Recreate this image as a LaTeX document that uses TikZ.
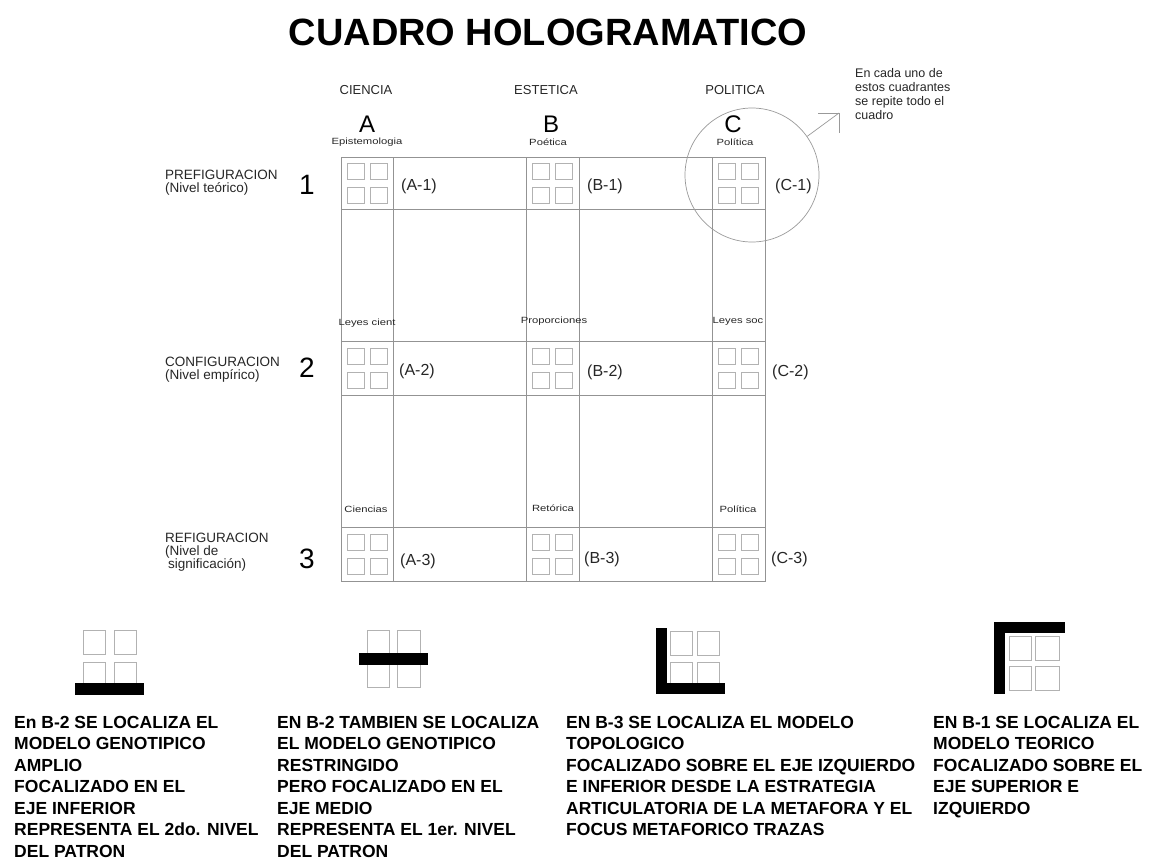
\documentclass[tikz,border=0pt]{standalone}
\usepackage{fontspec}
\setmainfont{Liberation Sans}
\newfontfamily\chica[FakeStretch=1.25]{Liberation Sans}
\tikzset{
  rejilla/.style={draw=gray!85, line width=0.8pt},
  cuadrito/.style={draw=gray!60, line width=0.7pt},
  barra/.style={fill=black},
  titulo/.style={font=\fontsize{38}{40}\selectfont\bfseries, inner sep=0pt},
  cabecera/.style={font=\fontsize{13}{15}\selectfont, text=black!85, inner sep=0pt},
  letra/.style={font=\fontsize{24}{26}\selectfont, inner sep=0pt},
  numero/.style={font=\fontsize{28}{30}\selectfont, inner sep=0pt},
  chico/.style={font=\chica\fontsize{9}{10}\selectfont, text=black!85, inner sep=0pt},
  nivel/.style={font=\fontsize{13.5}{13}\selectfont, text=black!85, align=left, anchor=north west, inner sep=0pt},
  celda/.style={font=\fontsize{16}{18}\selectfont, text=black!85, anchor=base west, inner sep=0pt},
  nota/.style={font=\fontsize{17.5}{21.5}\selectfont\bfseries, align=left, anchor=north west, inner sep=0pt}
}
\begin{document}
\begin{tikzpicture}[x=1pt,y=-1pt]
\useasboundingbox (0,0) rectangle (1155,860);
\node[titulo, anchor=base] (titulo) at (548,45) {CUADRO HOLOGRAMATICO};
% cuadro principal
\draw[rejilla] (341,157) rectangle (765,581);
\foreach \x in {393,526,579,712}
  \draw[rejilla] (\x,157) -- (\x,581);
\foreach \y in {209,341,395,527}
  \draw[rejilla] (341,\y) -- (765,\y);
\foreach \cx in {367,552.5,738.5}
  \foreach \cy in {183,368,554} {
    \draw[cuadrito] (\cx-20,\cy-20) rectangle ++(17,16);
    \draw[cuadrito] (\cx+3,\cy-20) rectangle ++(17,16);
    \draw[cuadrito] (\cx-20,\cy+4) rectangle ++(17,16);
    \draw[cuadrito] (\cx+3,\cy+4) rectangle ++(17,16);
  }
% cabeceras
\node[cabecera, anchor=base] (ciencia) at (366,94) {CIENCIA};
\node[cabecera, anchor=base] (estetica) at (546,94) {ESTETICA};
\node[cabecera, anchor=base] (politica) at (735,94) {POLITICA};
\node[letra, anchor=base] (letraA) at (367,132) {A};
\node[letra, anchor=base] (letraB) at (551,132) {B};
\node[letra, anchor=base] (letraC) at (733,132) {C};
\node[chico, anchor=base] (epist) at (367,144) {Epistemologia};
\node[chico, anchor=base] (poetica) at (548,145) {Poética};
\node[chico, anchor=base] (politica1) at (735,145) {Política};
% niveles
\node[nivel] (prefig) at (165,170.3) {PREFIGURACION\\(Nivel teórico)};
\node[nivel] (config) at (165,357.3) {CONFIGURACION\\(Nivel empírico)};
\node[nivel] (refig) at (165,533.3) {REFIGURACION\\(Nivel de\\\hspace{3pt}significación)};
\node[numero, anchor=base] (uno) at (307,194) {1};
\node[numero, anchor=base] (dos) at (307,377) {2};
\node[numero, anchor=base] (tres) at (307,568) {3};
% celdas
\node[celda] (a1) at (401,190) {(A-1)};
\node[celda] (b1) at (587,190) {(B-1)};
\node[celda] (c1) at (775,190) {(C-1)};
\node[celda] (a2) at (399,375) {(A-2)};
\node[celda] (b2) at (587,376) {(B-2)};
\node[celda] (c2) at (772,376) {(C-2)};
\node[celda] (a3) at (400,565) {(A-3)};
\node[celda] (b3) at (584,563) {(B-3)};
\node[celda] (c3) at (771,563) {(C-3)};
\node[chico, anchor=base] (leyesc) at (367,325) {Leyes cient};
\node[chico, anchor=base] (propor) at (554,323) {Proporciones};
\node[chico, anchor=base] (leyess) at (738,323) {Leyes soc};
\node[chico, anchor=base] (ciencias) at (366,512) {Ciencias};
\node[chico, anchor=base] (retorica) at (553,511) {Retórica};
\node[chico, anchor=base] (politica3) at (738,512) {Política};
% lupa
\node[circle, draw=gray!80, line width=0.7pt, minimum size=134pt, inner sep=0pt] (lupa) at (752,175) {};
\coordinate (flecha) at (839,113);
\draw[gray!80, line width=0.7pt] (lupa.35) -- (flecha);
\draw[gray!80, line width=0.7pt] (flecha) ++(-21,0) -- (flecha) -- ++(0,20);
\node[cabecera, align=left, anchor=north west, font=\fontsize{12.5}{14}\selectfont] (aviso) at (855,68)
  {En cada uno de\\estos cuadrantes\\se repite todo el\\cuadro};
% modelos
\draw[cuadrito] (83,630) rectangle ++(22,24);
\draw[cuadrito] (114,630) rectangle ++(22,24);
\draw[cuadrito] (83,662) rectangle ++(22,24);
\draw[cuadrito] (114,662) rectangle ++(22,24);
\fill[barra] (75,683) rectangle (144,695);
\draw[cuadrito] (367,630) rectangle ++(22,25);
\draw[cuadrito] (397,630) rectangle ++(23,25);
\draw[cuadrito] (367,662) rectangle ++(22,25);
\draw[cuadrito] (397,662) rectangle ++(23,25);
\fill[barra] (359,653) rectangle (428,665);
\draw[cuadrito] (670,631) rectangle ++(22,24);
\draw[cuadrito] (697,631) rectangle ++(22,24);
\draw[cuadrito] (670,662) rectangle ++(22,24);
\draw[cuadrito] (697,662) rectangle ++(22,24);
\fill[barra] (656,628) rectangle (667,694);
\fill[barra] (656,683) rectangle (725,694);
\draw[cuadrito] (1009,636) rectangle ++(22,24);
\draw[cuadrito] (1035,636) rectangle ++(24,24);
\draw[cuadrito] (1009,666) rectangle ++(22,24);
\draw[cuadrito] (1035,666) rectangle ++(24,24);
\fill[barra] (994,622) rectangle (1005,694);
\fill[barra] (994,622) rectangle (1065,633);
\node[nota] (texto1) at (14,716) {En B-2 SE LOCALIZA EL\\MODELO GENOTIPICO\\AMPLIO\\FOCALIZADO EN EL\\EJE INFERIOR\\REPRESENTA EL 2do. NIVEL\\DEL PATRON};
\node[nota] (texto2) at (277,716) {EN B-2 TAMBIEN SE LOCALIZA\\EL MODELO GENOTIPICO\\RESTRINGIDO\\PERO FOCALIZADO EN EL\\EJE MEDIO\\REPRESENTA EL 1er. NIVEL\\DEL PATRON};
\node[nota] (texto3) at (566,716) {EN B-3 SE LOCALIZA EL MODELO\\TOPOLOGICO\\FOCALIZADO SOBRE EL EJE IZQUIERDO\\E INFERIOR DESDE LA ESTRATEGIA\\ARTICULATORIA DE LA METAFORA Y EL\\FOCUS METAFORICO TRAZAS};
\node[nota] (texto4) at (933,716) {EN B-1 SE LOCALIZA EL\\MODELO TEORICO\\FOCALIZADO SOBRE EL\\EJE SUPERIOR E\\IZQUIERDO};
\end{tikzpicture}
\end{document}
